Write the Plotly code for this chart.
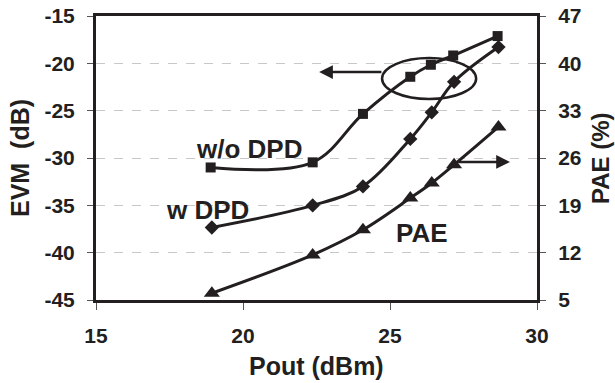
import plotly.graph_objects as go

pout_wo = [18.9, 22.37, 24.08, 25.69, 26.39, 27.15, 28.66]
evm_wo = [-31.0, -30.46, -25.34, -21.42, -20.15, -19.17, -17.12]

pout_w = [18.94, 22.37, 24.08, 25.69, 26.42, 27.18, 28.69]
evm_w = [-37.34, -35.01, -33.0, -27.99, -25.17, -21.95, -18.28]

pout_pae = [18.94, 22.37, 24.08, 25.69, 26.42, 27.18, 28.69]
pae = [6.0, 11.67, 15.38, 20.07, 22.3, 25.0, 30.6]

x_ticks = [15, 20, 25, 30]
evm_ticks = [-15, -20, -25, -30, -35, -40, -45]
pae_ticks = [5, 12, 19, 26, 33, 40, 47]

INK = "#231f20"
FONT = "Liberation Sans, Arial, sans-serif"


def bold(vals):
    return ["<b>%s</b>" % v for v in vals]


fig = go.Figure()
fig.add_trace(go.Scatter(x=pout_wo, y=evm_wo, mode="lines+markers",
                         line=dict(color=INK, width=3, shape="spline"),
                         marker=dict(symbol="square", size=10, color=INK), name="w/o DPD"))
fig.add_trace(go.Scatter(x=pout_w, y=evm_w, mode="lines+markers",
                         line=dict(color=INK, width=3, shape="spline"),
                         marker=dict(symbol="diamond", size=11, color=INK), name="w DPD"))
fig.add_trace(go.Scatter(x=pout_pae, y=pae, mode="lines+markers", yaxis="y2",
                         line=dict(color=INK, width=3, shape="spline"),
                         marker=dict(symbol="triangle-up", size=14, color=INK), name="PAE"))

tickfont = dict(family=FONT, size=21, color=INK, weight="bold")
titlefont = dict(family=FONT, size=25, color=INK)

fig.update_layout(
    width=615, height=383,
    margin=dict(l=96, r=78, t=16, b=83),
    paper_bgcolor="white", plot_bgcolor="white",
    showlegend=False,
    xaxis=dict(range=[15, 30], tickvals=x_ticks, ticktext=bold(x_ticks), ticks="outside",
               ticklen=7, tickwidth=1, automargin=False,
               tickcolor="#555", showline=True, linewidth=3, linecolor=INK, mirror=True,
               showgrid=False, zeroline=False, tickfont=tickfont, ticklabelstandoff=8),
    yaxis=dict(range=[-45, -15], tickvals=evm_ticks, ticktext=bold(evm_ticks), ticks="outside",
               ticklen=6, tickwidth=1, automargin=False,
               tickcolor="#555", showline=True, linewidth=3, linecolor=INK,
               showgrid=True, gridcolor="#c8c8c8", griddash="dash", gridwidth=1,
               zeroline=False, tickfont=tickfont, ticklabelstandoff=8),
    yaxis2=dict(range=[5, 47], tickvals=pae_ticks, ticktext=bold(pae_ticks), overlaying="y",
                side="right", automargin=False,
                ticks="outside", ticklen=6, tickwidth=1, tickcolor="#555",
                showline=True, linewidth=3, linecolor=INK, showgrid=False, zeroline=False,
                tickfont=tickfont, ticklabelstandoff=8),
)

# axis titles
fig.add_annotation(xref="paper", yref="paper", x=0.5, y=0, yshift=-66,
                   xanchor="center", yanchor="middle",
                   text="<b>Pout (dBm)</b>", showarrow=False, font=titlefont)
fig.add_annotation(xref="paper", yref="paper", x=0, y=0.5, xshift=-76,
                   xanchor="center", yanchor="middle",
                   text="<b>EVM  (dB)</b>", textangle=-90, showarrow=False, font=titlefont)
fig.add_annotation(xref="paper", yref="paper", x=1, y=0.5, xshift=63,
                   xanchor="center", yanchor="middle",
                   text="<b>PAE (%)</b>", textangle=-90, showarrow=False,
                   font=dict(family=FONT, size=24, color=INK))

labfont = dict(family=FONT, size=26, color=INK)
fig.add_annotation(x=20.2, y=-29.05, text="<b>w/o DPD</b>", showarrow=False, font=labfont)
fig.add_annotation(x=18.78, y=-35.5, text="<b>w DPD</b>", showarrow=False, font=labfont)
fig.add_annotation(x=26.09, y=-37.92, text="<b>PAE</b>", showarrow=False, font=labfont)

# arrows
fig.add_annotation(x=22.59, y=-20.92, ax=24.76, ay=-20.92, axref="x", ayref="y",
                   xref="x", yref="y", text="", showarrow=True, arrowhead=2,
                   arrowsize=1.1, arrowwidth=2.5, arrowcolor=INK)
fig.add_annotation(x=29.08, y=-30.42, ax=27.28, ay=-30.42, axref="x", ayref="y",
                   xref="x", yref="y", text="", showarrow=True, arrowhead=2,
                   arrowsize=1.1, arrowwidth=2.5, arrowcolor=INK)

fig.add_shape(type="circle", xref="x", yref="y", x0=24.73, x1=27.93, y0=-19.44, y1=-23.77,
              line=dict(color=INK, width=2.5))

# remove the page's default 8px body margin so the 615x383 figure fills the window
fig.write_html("out.html", config={"displayModeBar": False},
               post_script="document.body.style.margin='0';document.body.style.overflow='hidden';")
